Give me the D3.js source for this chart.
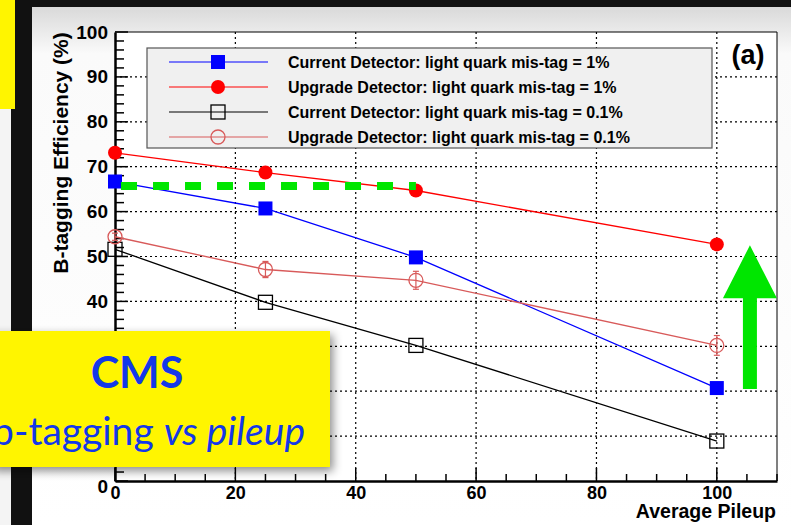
<!DOCTYPE html>
<html>
<head>
<meta charset="utf-8">
<script src="https://cdn.jsdelivr.net/npm/d3@7"></script>
<style>
  body { margin: 0; background: #111; }
  svg { display: block; }
</style>
</head>
<body>
<div id="chart"></div>
<script>
var pileup = [0, 25, 50, 100];

var currentOne = [66.7, 60.7, 49.8, 20.7];
var upgradeOne = [73.1, 68.7, 64.7, 52.7];
var currentTenth = [51.6, 39.8, 30.2, 8.9];
var upgradeTenth = [54.4, 47.1, 44.7, 30.2];
var upgradeTenthErr = [0.8, 1.8, 2.0, 2.2];

var seriesNames = [
  "Current Detector: light quark mis-tag = 1%",
  "Upgrade Detector: light quark mis-tag = 1%",
  "Current Detector: light quark mis-tag = 0.1%",
  "Upgrade Detector: light quark mis-tag = 0.1%"
];

var xTicks = [0, 20, 40, 60, 80, 100];
var yTicks = [0, 10, 20, 30, 40, 50, 60, 70, 80, 90, 100];
// labels hidden behind the yellow caption box
var yHidden = [10, 20, 30];

// green annotations (in data units)
var targetLevel = 65.7;
var targetRange = [1, 50];
var arrowPileup = 105.5;
var arrowRange = [20.5, 52.5];

var W = 791, H = 525;
var margin = {top: 32, right: 14, bottom: 44, left: 115},
    width = W - margin.left - margin.right,
    height = H - margin.top - margin.bottom;

var svg = d3.select("#chart").append("svg")
    .attr("width", W)
    .attr("height", H);

var defs = svg.append("defs");
var grad = defs.append("linearGradient").attr("id", "panelGrad")
    .attr("x1", 0).attr("y1", 0).attr("x2", 0).attr("y2", 1);
grad.append("stop").attr("offset", "0").attr("stop-color", "#d9d9d9");
grad.append("stop").attr("offset", "0.09").attr("stop-color", "#fafafa");
grad.append("stop").attr("offset", "1").attr("stop-color", "#ffffff");

var shadow = defs.append("filter").attr("id", "shadow")
    .attr("x", "-10%").attr("y", "-20%").attr("width", "130%").attr("height", "150%");
shadow.append("feDropShadow").attr("dx", 3).attr("dy", 4)
    .attr("stdDeviation", 5).attr("flood-color", "#000").attr("flood-opacity", 0.45);

// slide background
svg.append("rect").attr("width", W).attr("height", H).attr("fill", "#111");
svg.append("rect").attr("x", 0).attr("y", 100).attr("width", 11).attr("height", H - 100).attr("fill", "#f4f4f4");
svg.append("rect").attr("x", 32).attr("y", 7).attr("width", W - 32).attr("height", H - 7)
    .attr("fill", "url(#panelGrad)");
svg.append("rect").attr("x", 0).attr("y", 0).attr("width", 15).attr("height", 109)
    .attr("fill", "#fff500");

var g = svg.append("g")
    .attr("transform", "translate(" + margin.left + "," + margin.top + ")");

var x = d3.scaleLinear().domain([0, 110]).range([0, width]);
var y = d3.scaleLinear().domain([0, 100]).range([height, 0]);

g.append("rect").attr("width", width).attr("height", height).attr("fill", "#fff");

// dotted grid
g.selectAll(".gx").data(xTicks.slice(1)).enter().append("line")
    .attr("x1", d => x(d)).attr("x2", d => x(d))
    .attr("y1", 0).attr("y2", height)
    .attr("stroke", "#000").attr("stroke-width", 1.2).attr("stroke-dasharray", "2,3");
g.selectAll(".gy").data(yTicks.slice(1, -1)).enter().append("line")
    .attr("x1", 0).attr("x2", width)
    .attr("y1", d => y(d)).attr("y2", d => y(d))
    .attr("stroke", "#000").attr("stroke-width", 1.2).attr("stroke-dasharray", "2,3");

// frame top/right
g.append("line").attr("x1", 0).attr("x2", width).attr("y1", 0).attr("y2", 0)
    .attr("stroke", "#000").attr("stroke-width", 1);
g.append("line").attr("x1", width).attr("x2", width).attr("y1", 0).attr("y2", height)
    .attr("stroke", "#000").attr("stroke-width", 1);

// axes
var xAxis = d3.axisBottom(x).tickValues(xTicks).tickSize(0).tickPadding(5);
var yAxis = d3.axisLeft(y).tickValues(yTicks).tickSize(0).tickPadding(6)
    .tickFormat(d => yHidden.indexOf(d) >= 0 ? "" : d);

var gx = g.append("g").attr("transform", "translate(0," + height + ")").call(xAxis);
gx.select(".domain").attr("stroke-width", 2.5);
gx.selectAll("text").attr("font-size", 18).attr("font-weight", "bold")
    .attr("font-family", "Liberation Sans, Arial, sans-serif").attr("fill", "#000");

var gy = g.append("g").call(yAxis);
gy.select(".domain").attr("stroke-width", 2.5);
gy.selectAll("text").attr("font-size", 19).attr("font-weight", "bold")
    .attr("font-family", "Liberation Sans, Arial, sans-serif").attr("fill", "#000")
    .attr("dx", -1);
gy.selectAll(".tick").filter(d => d === 0).select("text").attr("dy", "0.6em");

// inward ticks
var xMinor = d3.range(0, 111, 5);
g.selectAll(".tx").data(xMinor).enter().append("line")
    .attr("x1", d => x(d)).attr("x2", d => x(d))
    .attr("y1", height).attr("y2", d => height - (d % 20 === 0 ? 13 : 7))
    .attr("stroke", "#000").attr("stroke-width", 1.5);
var yMinor = d3.range(0, 101, 2);
g.selectAll(".ty").data(yMinor).enter().append("line")
    .attr("x1", 0).attr("x2", d => (d % 10 === 0 ? 13 : 9))
    .attr("y1", d => y(d)).attr("y2", d => y(d))
    .attr("stroke", "#000").attr("stroke-width", 1.5);

// axis titles
svg.append("text").attr("x", 776).attr("y", 518).attr("text-anchor", "end")
    .attr("font-size", 19.5).attr("font-weight", "bold")
    .attr("font-family", "Liberation Sans, Arial, sans-serif")
    .text("Average Pileup");
svg.append("text").attr("transform", "translate(68,153) rotate(-90)")
    .attr("text-anchor", "middle")
    .attr("font-size", 21).attr("font-weight", "bold")
    .attr("font-family", "Liberation Sans, Arial, sans-serif")
    .text("B-tagging Efficiency (%)");

// series
var series = [
  {vals: currentOne, color: "#0000ff", shape: "square", fill: true},
  {vals: upgradeOne, color: "#ff0000", shape: "circle", fill: true},
  {vals: currentTenth, color: "#000000", shape: "square", fill: false},
  {vals: upgradeTenth, color: "#d85a5a", shape: "circle", fill: false, err: upgradeTenthErr}
];

var line = d3.line().x(d => x(d[0])).y(d => y(d[1]));

function drawMarker(sel, s, cx, cy) {
  if (s.shape === "square") {
    sel.append("rect")
      .attr("x", cx - 7).attr("y", cy - 7).attr("width", 14).attr("height", 14)
      .attr("fill", s.fill ? s.color : "none")
      .attr("stroke", s.color).attr("stroke-width", s.fill ? 0 : 1.3);
  } else {
    sel.append("circle")
      .attr("cx", cx).attr("cy", cy).attr("r", 7)
      .attr("fill", s.fill ? s.color : "none")
      .attr("stroke", s.color).attr("stroke-width", s.fill ? 0 : 1.3);
  }
}

series.forEach(function(s) {
  var pts = pileup.map((p, i) => [p, s.vals[i]]);
  g.append("path").datum(pts)
    .attr("d", line).attr("fill", "none")
    .attr("stroke", s.color).attr("stroke-width", 1.3);
  if (s.err) {
    pts.forEach(function(d, i) {
      var e = s.err[i];
      g.append("line").attr("x1", x(d[0])).attr("x2", x(d[0]))
        .attr("y1", y(d[1] + e)).attr("y2", y(d[1] - e))
        .attr("stroke", s.color).attr("stroke-width", 1.2);
      [d[1] + e, d[1] - e].forEach(function(v) {
        g.append("line").attr("x1", x(d[0]) - 3).attr("x2", x(d[0]) + 3)
          .attr("y1", y(v)).attr("y2", y(v))
          .attr("stroke", s.color).attr("stroke-width", 1.2);
      });
    });
  }
  pts.forEach(function(d) { drawMarker(g, s, x(d[0]), y(d[1])); });
});

// green annotations
g.append("line")
  .attr("x1", x(targetRange[0])).attr("x2", x(targetRange[1]))
  .attr("y1", y(targetLevel)).attr("y2", y(targetLevel))
  .attr("stroke", "#00e600").attr("stroke-width", 8).attr("stroke-dasharray", "16,16");

var ax = x(arrowPileup), ay0 = y(arrowRange[0]), ay1 = y(arrowRange[1]);
g.append("path")
  .attr("d", "M" + (ax - 7) + "," + ay0 + "V" + (ay1 + 53) + "H" + (ax - 27) +
    "L" + ax + "," + ay1 + "L" + (ax + 27) + "," + (ay1 + 53) + "H" + (ax + 7) + "V" + ay0 + "Z")
  .attr("fill", "#00e600");

// legend
var lg = svg.append("g");
lg.append("rect").attr("x", 147).attr("y", 48).attr("width", 565).attr("height", 100)
  .attr("fill", "#f0f0f0").attr("stroke", "#555").attr("stroke-width", 1.2);
series.forEach(function(s, i) {
  var ly = 62 + i * 25;
  lg.append("line").attr("x1", 169).attr("x2", 268).attr("y1", ly).attr("y2", ly)
    .attr("stroke", s.color).attr("stroke-width", 1.2);
  drawMarker(lg, s, 218, ly);
  lg.append("text").attr("x", 288).attr("y", ly + 6)
    .attr("font-size", 16).attr("font-weight", "bold")
    .attr("font-family", "Liberation Sans, Arial, sans-serif")
    .text(seriesNames[i]);
});

// panel label
svg.append("rect").attr("x", 718).attr("y", 33).attr("width", 58).attr("height", 37).attr("fill", "#fff");
svg.append("text").attr("x", 748).attr("y", 64).attr("text-anchor", "middle")
  .attr("font-size", 27).attr("font-weight", "bold")
  .attr("font-family", "Liberation Sans, Arial, sans-serif")
  .text("(a)");

// yellow caption box
var cap = svg.append("g");
cap.append("rect").attr("x", -10).attr("y", 331).attr("width", 340).attr("height", 136)
  .attr("fill", "#fff500").attr("filter", "url(#shadow)");
cap.append("text").attr("x", 137).attr("y", 388).attr("text-anchor", "middle")
  .attr("font-size", 43).attr("font-weight", "bold").attr("fill", "#1438e8")
  .attr("font-family", "Lato, 'Open Sans', sans-serif")
  .text("CMS");
var t2 = cap.append("text").attr("x", 305).attr("y", 445).attr("text-anchor", "end")
  .attr("font-size", 39).attr("fill", "#1438e8")
  .attr("font-family", "Lato, 'Open Sans', sans-serif");
t2.append("tspan").text("b-tagging ");
t2.append("tspan").attr("font-style", "italic").text("vs pileup");
</script>
</body>
</html>
